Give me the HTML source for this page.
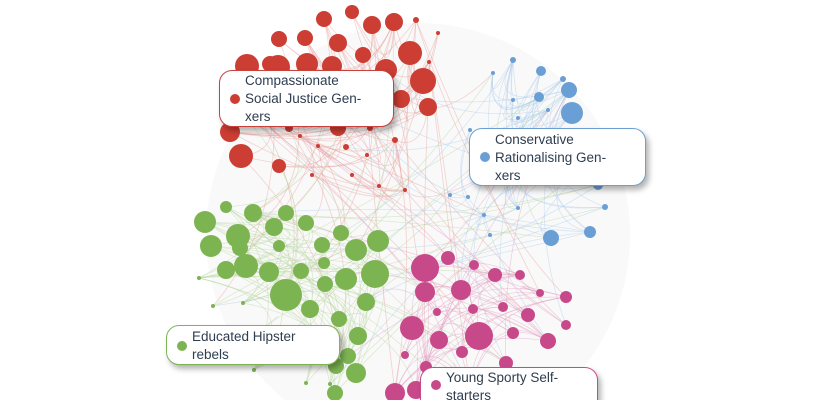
<!DOCTYPE html>
<html><head><meta charset="utf-8"><style>
html,body{margin:0;padding:0;background:#fff;width:840px;height:400px;overflow:hidden;font-family:"Liberation Sans",sans-serif}
#wrap{position:relative;width:840px;height:400px;overflow:hidden}
svg{position:absolute;left:0;top:0}
.lab{position:absolute;background:#fff;border-radius:13px;box-shadow:3px 4px 6px rgba(0,0,0,0.3);font-size:13.5px;line-height:18px;color:#2e3d4f;box-sizing:border-box}
.lab i{position:absolute;width:10px;height:10px;border-radius:50%}
.lab span{position:absolute;white-space:nowrap}
</style></head><body><div id="wrap">
<svg id="s" width="840" height="400" viewBox="0 0 840 400">
<circle cx="418" cy="235" r="212" fill="#f9f9f9"/>
<g id="edges" fill="none" stroke-width="0.8"></g>
<g id="nodes"></g>
</svg>
<div class="lab" style="left:219px;top:70px;width:175px;height:57px;border:1.5px solid #c8413a"><i style="left:10px;top:23px;background:#cc3d33"></i><span style="left:25px;top:1px">Compassionate<br>Social Justice Gen-<br>xers</span></div>
<div class="lab" style="left:469px;top:128px;width:177px;height:58px;border:1.5px solid #6b9fd4"><i style="left:10px;top:23px;background:#6a9fd6"></i><span style="left:25px;top:2px">Conservative<br>Rationalising Gen-<br>xers</span></div>
<div class="lab" style="left:166px;top:325px;width:174px;height:40px;border:1.5px solid #7fb455"><i style="left:10px;top:15px;background:#7db452"></i><span style="left:25px;top:2px">Educated Hipster<br>rebels</span></div>
<div class="lab" style="left:420px;top:367px;width:178px;height:33px;overflow:hidden;border:1.5px solid #c94a8c;border-bottom:none;border-radius:13px 13px 0 0"><i style="left:10px;top:12px;background:#c8498a"></i><span style="left:25px;top:1px">Young Sporty Self-<br>starters</span></div>
</div>
<script>
var R=[[324,19,8],[352,12,7],[372,25,9],[394,22,9],[416,20,3],[438,33,2],[279,39,8],[305,38,8],[338,43,9],[363,55,8],[410,53,12],[423,81,13],[270,64,8],[247,66,12],[278,67,12],[307,64,11],[332,66,10],[386,70,11],[401,99,9],[428,107,9],[236,108,6],[230,132,10],[241,156,12],[279,166,7],[260,118,8],[338,128,8],[370,128,3],[346,147,3],[395,140,3],[429,62,2],[300,136,2],[318,146,2],[312,175,2],[352,175,2],[379,186,2],[405,190,2],[367,155,2],[289,128,4],[339,113,9]];
var B=[[513,60,3],[541,71,5],[563,79,3],[569,90,8],[572,113,11],[539,97,5],[470,130,2],[493,73,2],[513,100,2],[518,118,2],[548,110,2],[577,140,5],[598,185,5],[605,207,3],[590,232,6],[551,238,8],[518,208,2],[484,215,2],[468,197,2],[542,175,2],[520,155,4],[508,165,3],[497,180,3],[450,195,2],[490,235,2],[607,150,2]];
var G=[[226,207,6],[253,213,9],[286,213,8],[205,222,11],[238,236,12],[274,227,9],[306,223,8],[211,246,11],[240,248,8],[279,246,6],[322,245,8],[341,233,8],[356,250,11],[378,241,11],[246,266,12],[269,272,10],[301,271,8],[324,263,6],[346,279,11],[375,274,14],[226,270,9],[286,295,16],[325,284,8],[310,309,9],[366,302,9],[339,319,8],[358,336,9],[348,356,8],[356,373,10],[336,366,8],[335,393,8],[199,278,2],[213,306,2],[243,303,2],[254,370,2],[306,383,2],[330,384,2],[255,335,2]];
var P=[[425,268,14],[448,258,7],[474,265,5],[495,275,7],[520,275,5],[425,292,10],[461,290,10],[540,293,4],[566,297,6],[437,312,4],[473,309,5],[503,307,5],[528,315,7],[566,325,5],[412,328,12],[439,340,9],[479,336,14],[513,333,6],[548,341,8],[405,355,4],[462,352,6],[426,367,6],[506,363,7],[395,393,10],[416,390,9],[470,387,7]];
var seed=7;function rnd(){seed=(seed*16807)%2147483647;return seed/2147483647;}
var all=[[R,'#cc3d33','#e6a09c'],[B,'#6a9fd6','#aecbea'],[G,'#7db452','#b8d8a0'],[P,'#c8498a','#e2a0c2']];
var e='';var cx=420,cy=235;
function curve(a,b,col){var mx=(a[0]+b[0])/2,my=(a[1]+b[1])/2;var qx=mx+(cx-mx)*0.35+(rnd()-0.5)*40,qy=my+(cy-my)*0.35+(rnd()-0.5)*40;
e+='<path d="M'+a[0]+' '+a[1]+' Q'+qx.toFixed(1)+' '+qy.toFixed(1)+' '+b[0]+' '+b[1]+'" stroke="'+col+'" stroke-opacity="0.45"/>';}
all.forEach(function(c,i){var n=c[0];for(var k=0;k<n.length*2;k++){curve(n[Math.floor(rnd()*n.length)],n[Math.floor(rnd()*n.length)],c[2]);}
for(var k=0;k<n.length;k++){var o=all[Math.floor(rnd()*4)][0];curve(n[Math.floor(rnd()*n.length)],o[Math.floor(rnd()*o.length)],c[2]);}});
document.getElementById('edges').innerHTML=e;
var s='';all.forEach(function(c){c[0].forEach(function(p){s+='<circle cx="'+p[0]+'" cy="'+p[1]+'" r="'+p[2]+'" fill="'+c[1]+'"/>';});});
document.getElementById('nodes').innerHTML=s;
</script>
</body></html>
